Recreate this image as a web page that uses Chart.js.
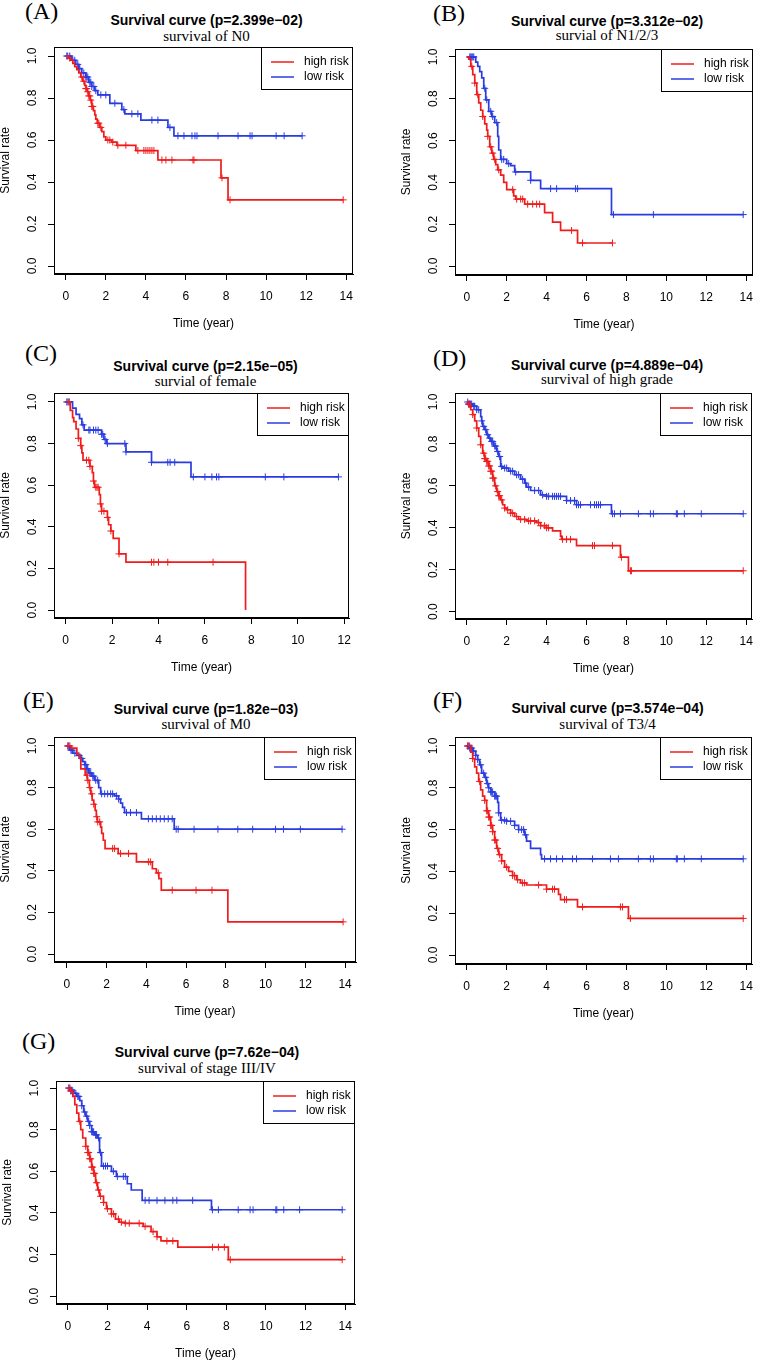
<!DOCTYPE html>
<html>
<head>
<meta charset="utf-8">
<script src="https://cdn.jsdelivr.net/npm/chart.js@4.4.1/dist/chart.umd.min.js"></script>
<style>
body { margin:0; width:762px; height:1361px; background:#fff; position:relative; overflow:hidden; }
canvas { position:absolute; }
.tag { position:absolute; font-family:'Liberation Serif'; font-size:24px; line-height:26px; color:#000; white-space:nowrap; }
.ttl { position:absolute; text-align:center; font-family:'Liberation Sans'; font-weight:bold; font-size:14px; line-height:16px; color:#000; white-space:nowrap; }
.sub { position:absolute; text-align:center; font-family:'Liberation Serif'; font-size:15px; line-height:17px; color:#000; white-space:nowrap; }
</style>
</head>
<body>
<script>
// text
var tags = ['(A)', '(B)', '(C)', '(D)', '(E)', '(F)', '(G)'];
var titles = ['Survival curve (p=2.399e\u221202)', 'Survival curve (p=3.312e\u221202)', 'Survival curve (p=2.15e\u221205)',
  'Survival curve (p=4.889e\u221204)', 'Survival curve (p=1.82e\u221203)', 'Survival curve (p=3.574e\u221204)', 'Survival curve (p=7.62e\u221204)'];
var subtitles = ['survival of N0', 'survial of N1/2/3', 'survial of female', 'survival of high grade',
  'survival of M0', 'survival of T3/4', 'survival of stage III/IV'];
var seriesNames = ['high risk', 'low risk'];

var xTicks14 = [0, 2, 4, 6, 8, 10, 12, 14];
var xTicks12 = [0, 2, 4, 6, 8, 10, 12];
var yTicks = [0, 0.2, 0.4, 0.6, 0.8, 1.0];
var yTickLabels = ['0.0', '0.2', '0.4', '0.6', '0.8', '1.0'];

// (A) N0
var aHighT = [0.15,0.25,0.35,0.45,0.55,0.65,0.75,0.85,0.95,1.0,1.08,1.15,1.22,1.3,1.38,1.45,1.5,1.57,1.7,1.8,1.9,2.0,2.3,2.55,3.5,4.6,7.75,8.1];
var aHighS = [0.99,0.98,0.965,0.95,0.935,0.92,0.9,0.88,0.86,0.845,0.83,0.81,0.79,0.76,0.74,0.72,0.7,0.68,0.66,0.64,0.615,0.6,0.59,0.575,0.55,0.505,0.42,0.315];
var aHighC = [0.2,0.8,0.9,1.0,1.05,1.1,1.15,1.2,1.25,1.3,1.35,1.6,1.65,1.75,2.1,2.2,2.35,2.6,3.0,3.6,3.9,4.0,4.1,4.2,4.3,4.4,4.8,5.0,5.3,6.35,6.4,7.8,8.2,13.85];
var aLowT = [0.3,0.5,0.65,0.8,1.0,1.15,1.3,1.45,1.6,2.2,2.8,2.95,3.75,5.1,5.4];
var aLowS = [0.98,0.96,0.94,0.92,0.9,0.875,0.855,0.835,0.815,0.775,0.745,0.725,0.695,0.66,0.62];
var aLowC = [0.05,0.1,0.2,0.35,0.45,0.6,0.7,0.9,1.0,1.05,1.1,1.2,1.25,1.3,1.4,1.5,1.75,2.0,2.45,2.9,3.3,3.6,4.3,4.6,5.2,5.6,5.9,6.3,6.45,6.55,7.6,8.6,9.2,9.3,10.5,10.9,11.8];

// (B) N1/2/3
var bHighT = [0.1,0.2,0.3,0.4,0.5,0.6,0.7,0.8,0.9,1.0,1.05,1.15,1.25,1.35,1.45,1.55,1.7,1.85,2.0,2.35,2.45,2.9,3.9,4.3,4.7,5.55];
var bHighS = [0.99,0.955,0.915,0.875,0.82,0.78,0.745,0.715,0.68,0.65,0.62,0.57,0.54,0.51,0.485,0.46,0.435,0.4,0.365,0.335,0.32,0.296,0.255,0.21,0.17,0.11];
var bHighC = [0.25,0.4,0.55,0.8,1.05,1.2,1.3,1.4,1.6,2.3,2.5,2.7,2.8,3.05,3.3,3.5,3.65,5.25,5.8,7.3];
var bLowT = [0.45,0.55,0.65,0.75,0.85,0.95,1.1,1.25,1.4,1.55,1.6,1.7,2.0,2.2,2.4,3.2,3.7,7.25];
var bLowS = [0.975,0.955,0.93,0.9,0.85,0.795,0.74,0.715,0.686,0.62,0.555,0.51,0.49,0.48,0.45,0.41,0.37,0.246];
var bLowC = [0.15,0.2,0.25,0.3,0.35,0.9,1.0,1.2,1.3,1.5,1.75,1.85,2.1,2.45,3.2,4.2,4.5,5.45,5.55,7.35,9.35,13.85];

// (C) female
var cHighT = [0.2,0.3,0.35,0.45,0.55,0.65,0.7,0.75,1.05,1.15,1.2,1.25,1.45,1.5,1.55,1.8,1.85,1.95,2.05,2.3,2.6,7.75];
var cHighS = [0.96,0.925,0.905,0.87,0.825,0.79,0.755,0.72,0.69,0.66,0.62,0.59,0.555,0.51,0.475,0.445,0.41,0.38,0.345,0.27,0.23,0.0];
var cHighC = [0.15,0.55,0.65,0.9,1.0,1.05,1.2,1.3,1.35,1.4,1.5,1.55,1.65,1.8,1.95,2.3,3.7,3.8,4.0,4.4,6.35];
var cLowT = [0.3,0.45,0.6,0.7,0.8,1.55,1.65,1.75,2.6,3.7,5.4];
var cLowS = [0.97,0.94,0.92,0.89,0.865,0.845,0.82,0.8,0.76,0.71,0.64];
var cLowC = [0.05,0.1,0.15,0.75,1.0,1.05,1.2,1.3,1.4,1.55,1.6,1.7,1.8,2.55,2.6,3.7,4.4,4.5,4.7,5.5,6.0,6.3,6.5,6.6,8.6,9.4,11.75];

// (D) high grade
var dHighT = [0.1,0.2,0.3,0.4,0.5,0.6,0.7,0.8,0.9,1.0,1.1,1.2,1.3,1.4,1.5,1.6,1.7,1.8,1.9,2.0,2.2,2.4,2.6,3.0,3.5,3.7,4.0,4.3,4.7,4.75,5.5,7.7,8.1];
var dHighS = [0.99,0.963,0.94,0.91,0.876,0.836,0.796,0.756,0.73,0.717,0.695,0.67,0.637,0.6,0.573,0.553,0.533,0.51,0.494,0.486,0.47,0.454,0.44,0.433,0.425,0.41,0.4,0.385,0.36,0.345,0.315,0.26,0.195];
var dHighC = [0.1,0.15,0.3,0.5,0.7,0.85,0.9,0.95,1.0,1.05,1.1,1.15,1.2,1.25,1.3,1.35,1.45,1.55,1.6,1.65,1.75,1.9,2.05,2.2,2.3,2.5,2.7,2.9,3.1,3.2,3.4,3.6,3.7,3.9,4.0,4.1,4.8,5.0,5.2,6.3,6.4,7.3,7.75,8.2,8.25,13.85];
var dLowT = [0.1,0.3,0.5,0.7,0.75,0.8,0.9,1.0,1.1,1.2,1.35,1.5,1.6,1.7,1.8,2.1,2.4,2.7,2.9,3.0,3.2,3.7,4.0,5.0,5.5,7.25];
var dLowS = [0.99,0.98,0.963,0.93,0.91,0.884,0.868,0.844,0.828,0.812,0.79,0.764,0.74,0.693,0.685,0.67,0.653,0.632,0.613,0.594,0.578,0.557,0.55,0.53,0.51,0.467];
var dLowC = [0.05,0.1,0.15,0.2,0.25,0.35,0.4,0.5,0.6,0.75,0.85,0.95,1.05,1.15,1.25,1.3,1.4,1.45,1.55,1.65,1.75,1.9,2.0,2.2,2.3,2.5,2.6,2.8,2.95,3.1,3.4,3.6,3.8,4.0,4.1,4.3,4.4,4.5,4.6,4.7,5.0,5.2,5.4,5.5,5.6,5.7,6.2,6.4,6.5,6.6,6.7,7.3,7.4,7.7,8.6,9.2,9.35,10.5,10.55,10.9,11.75,13.85];

// (E) M0
var eHighT = [0.2,0.5,0.65,0.7,0.92,1.03,1.13,1.2,1.27,1.35,1.42,1.48,1.53,1.7,1.75,1.83,1.92,2.58,3.5,4.3,4.5,4.63,4.75,8.1];
var eHighS = [0.99,0.96,0.94,0.89,0.86,0.835,0.8,0.77,0.74,0.72,0.69,0.66,0.635,0.61,0.58,0.547,0.507,0.483,0.443,0.41,0.39,0.363,0.307,0.155];
var eHighC = [0.05,0.15,1.0,1.05,1.15,1.25,1.35,1.5,1.55,1.65,2.3,2.4,2.7,3.1,4.1,4.2,4.6,5.3,6.5,7.3,13.9];
var eLowT = [0.15,0.3,0.5,0.7,0.8,0.9,1.0,1.1,1.25,1.4,1.6,1.7,2.4,2.6,2.7,2.8,2.9,3.75,5.4];
var eLowS = [0.98,0.965,0.955,0.94,0.925,0.91,0.89,0.87,0.855,0.835,0.8,0.77,0.76,0.745,0.725,0.705,0.68,0.65,0.6];
var eLowC = [0.05,0.1,0.2,0.25,0.4,0.6,0.75,0.9,0.95,1.0,1.05,1.15,1.2,1.3,1.35,1.45,1.55,1.75,1.9,2.05,2.2,2.3,2.5,2.6,3.0,3.2,3.5,4.1,4.3,4.5,4.7,4.9,5.1,5.3,5.5,5.6,6.4,7.6,8.6,9.35,10.5,10.9,11.75,13.85];

// (F) T3/4
var fHighT = [0.2,0.3,0.4,0.5,0.6,0.7,0.8,0.9,1.0,1.1,1.2,1.3,1.4,1.5,1.6,1.75,1.9,2.1,2.3,2.5,2.7,3.0,4.0,4.6,4.7,5.55,8.1];
var fHighS = [0.97,0.94,0.9,0.87,0.83,0.79,0.76,0.74,0.69,0.66,0.62,0.59,0.55,0.51,0.48,0.45,0.42,0.4,0.38,0.36,0.345,0.335,0.315,0.29,0.265,0.23,0.175];
var fHighC = [0.05,0.15,0.3,0.65,0.9,1.0,1.05,1.1,1.15,1.2,1.25,1.3,1.4,1.45,1.55,1.65,1.75,2.0,2.3,2.4,2.55,2.8,2.9,3.6,4.0,4.3,4.4,4.9,5.0,5.8,7.7,7.8,8.2,13.85];
var fLowT = [0.15,0.3,0.45,0.55,0.65,0.75,0.9,1.0,1.1,1.2,1.4,1.55,1.6,1.7,2.0,2.4,2.6,2.9,3.0,3.2,3.7,3.75];
var fLowS = [0.99,0.975,0.955,0.935,0.91,0.87,0.85,0.82,0.8,0.78,0.76,0.73,0.68,0.645,0.64,0.62,0.6,0.575,0.545,0.51,0.48,0.46];
var fLowC = [0.05,0.1,0.15,0.2,0.25,0.35,0.45,0.55,0.7,0.85,0.95,1.05,1.1,1.2,1.25,1.3,1.4,1.45,1.5,1.6,1.75,1.9,2.0,2.2,2.4,2.6,2.75,2.85,2.95,3.9,4.2,4.5,4.8,5.3,5.5,6.3,7.2,7.6,8.6,9.2,9.35,10.5,10.55,10.9,11.75,13.85];

// (G) stage III/IV
var gHighT = [0.15,0.25,0.35,0.45,0.55,0.65,0.75,0.9,1.0,1.1,1.2,1.3,1.4,1.5,1.6,1.8,1.95,2.2,2.4,2.6,2.9,3.8,4.2,4.5,4.7,5.55,8.1];
var gHighS = [0.985,0.96,0.92,0.88,0.84,0.8,0.76,0.72,0.69,0.66,0.62,0.59,0.545,0.51,0.48,0.45,0.42,0.395,0.37,0.355,0.35,0.335,0.31,0.285,0.265,0.235,0.175];
var gHighC = [0.05,0.15,0.6,0.9,1.0,1.05,1.1,1.15,1.2,1.25,1.3,1.35,1.45,1.55,1.65,1.8,2.0,2.2,2.3,2.55,2.7,2.9,3.1,3.6,3.9,4.3,4.5,5.0,5.3,7.3,7.6,7.9,8.2,13.85];
var gLowT = [0.15,0.3,0.45,0.6,0.7,0.8,0.9,1.0,1.1,1.2,1.35,1.5,1.6,1.7,2.2,2.45,3.0,3.2,3.75,7.25];
var gLowS = [0.99,0.975,0.96,0.94,0.915,0.885,0.865,0.84,0.82,0.79,0.775,0.76,0.69,0.625,0.6,0.575,0.54,0.51,0.46,0.415];
var gLowC = [0.05,0.1,0.15,0.2,0.3,0.4,0.5,0.55,0.7,0.85,0.95,1.05,1.1,1.2,1.25,1.3,1.4,1.45,1.55,1.65,1.8,1.9,2.0,2.3,2.5,2.8,2.9,3.9,4.1,4.5,4.9,5.3,5.5,6.3,7.3,7.6,8.6,9.2,9.35,10.5,10.55,10.9,11.7,13.85];

var curves = [
  [aHighT, aHighS, aHighC, aLowT, aLowS, aLowC],
  [bHighT, bHighS, bHighC, bLowT, bLowS, bLowC],
  [cHighT, cHighS, cHighC, cLowT, cLowS, cLowC],
  [dHighT, dHighS, dHighC, dLowT, dLowS, dLowC],
  [eHighT, eHighS, eHighC, eLowT, eLowS, eLowC],
  [fHighT, fHighS, fHighC, fLowT, fLowS, fLowC],
  [gHighT, gHighS, gHighC, gLowT, gLowS, gLowC]
];

// panel placement (page pixels): plot box, axis ranges, text rows
var panels = [
  {box:[54,47,359,274],    xr:[-0.587,14.343], yr:[-0.038,1.043], xt:xTicks14, tag:[25,11],   ty:20,   sy:37},
  {box:[455,49,759,275],   xr:[-0.59,14.34],   yr:[-0.043,1.038], xt:xTicks14, tag:[433,13],  ty:21,   sy:36},
  {box:[54,393,357,618],   xr:[-0.5,12.21],    yr:[-0.038,1.043], xt:xTicks12, tag:[25,353],  ty:366,  sy:382},
  {box:[455,393,759,619],  xr:[-0.587,14.29],  yr:[-0.035,1.043], xt:xTicks14, tag:[433,358], ty:365,  sy:380},
  {box:[54,737,358,962],   xr:[-0.65,14.55],   yr:[-0.038,1.043], xt:xTicks14, tag:[23,700],  ty:709,  sy:725},
  {box:[455,737,760,964],  xr:[-0.585,14.29],  yr:[-0.043,1.043], xt:xTicks14, tag:[433,700], ty:708,  sy:725},
  {box:[56,1081,358,1304], xr:[-0.6,14.5],     yr:[-0.038,1.034], xt:xTicks14, tag:[22,1041], ty:1052, sy:1069}
];

var RED = '#f01c1c';
var BLUE = '#2a3ce0';
var FONT = 'Liberation Sans';

function stepAt(T, S, t) {
  var v = 1;
  for (var i = 0; i < T.length; i++) {
    if (T[i] <= t) v = S[i];
  }
  return v;
}

function curvePoints(T, S, C) {
  var pts = [{x: 0, y: 1}];
  for (var i = 0; i < T.length; i++) pts.push({x: T[i], y: S[i]});
  var lastC = C[C.length - 1];
  if (lastC > T[T.length - 1]) pts.push({x: lastC, y: S[S.length - 1]});
  return pts;
}

function censorPoints(T, S, C) {
  return C.map(function (t) { return {x: t, y: stepAt(T, S, t)}; });
}

// R-like box, rotated y labels and boxed legend
var rPlot = {
  id: 'rPlot',
  afterDraw: function (chart) {
    var ctx = chart.ctx, a = chart.chartArea;
    ctx.save();
    ctx.strokeStyle = '#000';
    ctx.lineWidth = 1;
    var l = Math.round(a.left), t = Math.round(a.top), r = Math.round(a.right), b = Math.round(a.bottom);
    ctx.strokeRect(l + 0.5, t + 0.5, r - l - 1, b - t - 1);

    var ys = chart.scales.y;
    ctx.fillStyle = '#000';
    ctx.font = '12px "' + FONT + '"';
    ctx.textAlign = 'center';
    ctx.textBaseline = 'middle';
    yTicks.forEach(function (v, i) {
      ctx.save();
      ctx.translate(l - 21, ys.getPixelForValue(v));
      ctx.rotate(-Math.PI / 2);
      ctx.fillText(yTickLabels[i], 0, 0);
      ctx.restore();
    });

    // legend
    var lw = 92, lh = 43, lx = r - lw, ly = t;
    ctx.fillStyle = '#fff';
    ctx.fillRect(lx, ly, lw, lh);
    ctx.strokeRect(lx + 0.5, ly + 0.5, lw - 1, lh - 1);
    ctx.textAlign = 'left';
    [0, 1].forEach(function (k) {
      var ds = chart.data.datasets[k];
      var yy = ly + 15 + k * 15;
      ctx.strokeStyle = ds.borderColor;
      ctx.lineWidth = 1.5;
      ctx.beginPath();
      ctx.moveTo(lx + 10, yy);
      ctx.lineTo(lx + 33, yy);
      ctx.stroke();
      ctx.fillStyle = '#000';
      ctx.fillText(seriesNames[k], lx + 43, yy);
    });
    ctx.restore();
  }
};

function addText(cls, txt, left, top, width) {
  var d = document.createElement('div');
  d.className = cls;
  d.textContent = txt;
  d.style.left = left + 'px';
  d.style.top = top + 'px';
  if (width) d.style.width = width + 'px';
  document.body.appendChild(d);
}

function drawPanel(k) {
  var p = panels[k], c = curves[k];
  var bx0 = p.box[0], by0 = p.box[1], bx1 = p.box[2], by1 = p.box[3];
  var left = bx0 - 56, top = by0 - 6;
  var w = Math.min(bx1 + 3, 762) - left, h = by1 + 57 - top;

  addText('tag', tags[k], p.tag[0], p.tag[1] - 13);
  addText('ttl', titles[k], bx0, p.ty - 8, bx1 - bx0);
  addText('sub', subtitles[k], bx0, p.sy - 9, bx1 - bx0);

  var cv = document.createElement('canvas');
  cv.width = w;
  cv.height = h;
  cv.style.left = left + 'px';
  cv.style.top = top + 'px';
  document.body.appendChild(cv);

  var xt = p.xt;
  new Chart(cv, {
    type: 'line',
    data: {
      datasets: [
        {label: seriesNames[0], data: curvePoints(c[0], c[1], c[2]), borderColor: RED, borderWidth: 1.7, pointRadius: 0, stepped: true, fill: false},
        {label: seriesNames[1], data: curvePoints(c[3], c[4], c[5]), borderColor: BLUE, borderWidth: 1.7, pointRadius: 0, stepped: true, fill: false},
        {label: 'censor high', data: censorPoints(c[0], c[1], c[2]), showLine: false, pointStyle: 'cross', pointRadius: 3.5, borderColor: RED, pointBorderWidth: 1},
        {label: 'censor low', data: censorPoints(c[3], c[4], c[5]), showLine: false, pointStyle: 'cross', pointRadius: 3.5, borderColor: BLUE, pointBorderWidth: 1}
      ]
    },
    options: {
      animation: false,
      responsive: false,
      devicePixelRatio: 1,
      layout: {padding: {left: 0, top: 6, right: w - (bx1 - left), bottom: 0}},
      plugins: {legend: {display: false}, tooltip: {enabled: false}},
      scales: {
        x: {
          type: 'linear', min: p.xr[0], max: p.xr[1],
          afterBuildTicks: function (s) { s.ticks = xt.map(function (v) { return {value: v}; }); },
          afterFit: function (s) { s.height = 57; },
          ticks: {color: '#000', font: {family: FONT, size: 12}, padding: 9, maxRotation: 0, autoSkip: false},
          grid: {drawOnChartArea: false, color: '#000', tickLength: 6},
          border: {color: '#000'},
          title: {display: true, text: 'Time (year)', color: '#000', font: {family: FONT, size: 12}, padding: {top: 0, bottom: 0}}
        },
        y: {
          type: 'linear', min: p.yr[0], max: p.yr[1],
          afterBuildTicks: function (s) { s.ticks = yTicks.map(function (v) { return {value: v}; }); },
          afterFit: function (s) { s.width = 56; },
          ticks: {display: false},
          grid: {drawOnChartArea: false, color: '#000', tickLength: 6},
          border: {color: '#000'},
          title: {display: true, text: 'Survival rate', color: '#000', font: {family: FONT, size: 12}, padding: {top: 0, bottom: 0}}
        }
      }
    },
    plugins: [rPlot]
  });
}

for (var k = 0; k < panels.length; k++) drawPanel(k);
</script>
</body>
</html>
